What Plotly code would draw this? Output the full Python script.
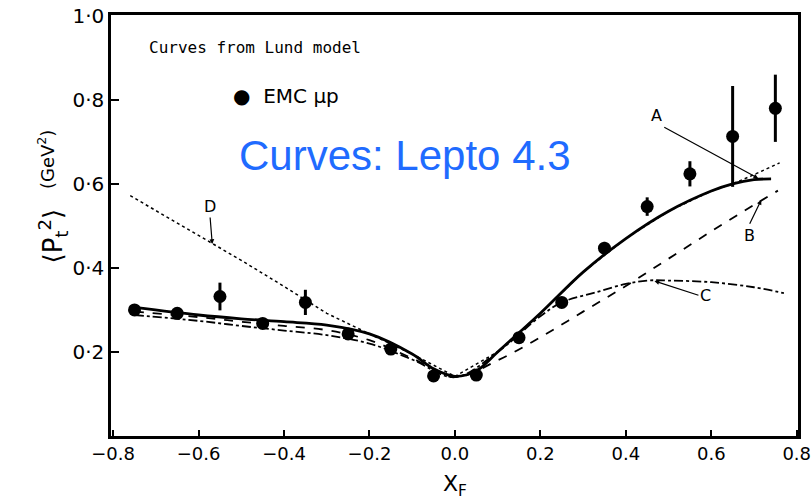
import plotly.graph_objects as go

# EMC mu-p data
xf = [-0.75, -0.65, -0.55, -0.45, -0.35, -0.25, -0.15, -0.05, 0.05, 0.15, 0.25, 0.35, 0.45, 0.55, 0.65, 0.75]
pt2 = [0.300, 0.292, 0.332, 0.268, 0.318, 0.243, 0.207, 0.143, 0.145, 0.234, 0.318, 0.447, 0.546, 0.624, 0.713, 0.780]
pt2_err = [0.012, 0.010, 0.033, 0.010, 0.030, 0.010, 0.008, 0.006, 0.006, 0.010, 0.012, 0.015, 0.022, 0.030, 0.120, 0.080]

# Curve A (solid)
xa = [-0.75, -0.6, -0.5, -0.4, -0.3, -0.2, -0.1, -0.05, 0.0, 0.05, 0.1, 0.2, 0.3, 0.4, 0.5, 0.6, 0.65, 0.7, 0.74]
ya = [0.306, 0.288, 0.279, 0.272, 0.264, 0.243, 0.195, 0.160, 0.142, 0.155, 0.200, 0.292, 0.390, 0.470, 0.535, 0.583, 0.600, 0.610, 0.612]
# Curve B (dashed)
xb = [-0.75, -0.6, -0.5, -0.4, -0.3, -0.2, -0.1, 0.0, 0.1, 0.2, 0.3, 0.4, 0.5, 0.6, 0.7, 0.756]
yb = [0.296, 0.283, 0.272, 0.262, 0.252, 0.228, 0.185, 0.140, 0.180, 0.235, 0.296, 0.357, 0.422, 0.487, 0.550, 0.584]
# Curve C (dash-dot)
xc = [-0.75, -0.6, -0.5, -0.4, -0.3, -0.2, -0.1, 0.0, 0.1, 0.2, 0.25, 0.33, 0.4, 0.45, 0.5, 0.6, 0.7, 0.77]
yc = [0.288, 0.274, 0.262, 0.251, 0.240, 0.220, 0.182, 0.140, 0.200, 0.285, 0.318, 0.342, 0.362, 0.370, 0.370, 0.366, 0.354, 0.340]
# Curve D (dotted)
xd = [-0.76, -0.6, -0.5, -0.4, -0.35, -0.3, -0.2, -0.1, 0.0, 0.1, 0.2, 0.3, 0.4, 0.5, 0.6, 0.65, 0.7, 0.76]
yd = [0.572, 0.478, 0.418, 0.356, 0.323, 0.292, 0.243, 0.195, 0.142, 0.200, 0.292, 0.390, 0.470, 0.535, 0.583, 0.600, 0.622, 0.650]

x_ticks = [-0.8, -0.6, -0.4, -0.2, 0.0, 0.2, 0.4, 0.6, 0.8]
x_tick_labels = ["\u22120.8", "\u22120.6", "\u22120.4", "\u22120.2", "0.0", "0.2", "0.4", "0.6", "0.8"]
y_ticks = [0.2, 0.4, 0.6, 0.8, 1.0]
y_tick_labels = ["0\u00b72", "0\u00b74", "0\u00b76", "0\u00b78", "1\u00b70"]

fig = go.Figure()
fig.add_trace(go.Scatter(x=xd, y=yd, mode="lines", line=dict(color="black", width=1.5, dash="dot"),
                         showlegend=False, hoverinfo="skip"))
fig.add_trace(go.Scatter(x=xc, y=yc, mode="lines", line=dict(color="black", width=1.8, dash="dashdot", shape="spline"),
                         showlegend=False))
fig.add_trace(go.Scatter(x=xb, y=yb, mode="lines", line=dict(color="black", width=1.8, dash="dash", shape="spline"),
                         showlegend=False))
fig.add_trace(go.Scatter(x=xa, y=ya, mode="lines", line=dict(color="black", width=2.8, shape="spline"),
                         showlegend=False))
fig.add_trace(go.Scatter(x=xf, y=pt2, mode="markers",
                         marker=dict(color="black", size=13),
                         error_y=dict(type="data", array=pt2_err, color="black", thickness=3, width=0),
                         showlegend=False))

font = "DejaVu Sans"
fig.update_layout(
    width=812, height=500,
    margin=dict(l=111, r=14, t=15, b=64, autoexpand=False),
    paper_bgcolor="white", plot_bgcolor="white",
    font=dict(family=font, color="black"),
    xaxis=dict(range=[-0.805, 0.803], tickvals=x_ticks, ticktext=x_tick_labels, automargin=False,
               ticks="inside", ticklen=6, tickwidth=1.5, tickcolor="black",
               showline=True, linecolor="black", linewidth=2.5, mirror=True,
               showgrid=False, zeroline=False,
               tickfont=dict(family=font, size=18, color="black")),
    yaxis=dict(range=[0.0, 1.002], tickvals=y_ticks, ticktext=y_tick_labels, automargin=False,
               ticks="inside", ticklen=8, tickwidth=1.5, tickcolor="black",
               showline=True, linecolor="black", linewidth=2.5, mirror=True,
               showgrid=False, zeroline=False,
               tickfont=dict(family=font, size=20, color="black")),
)

ann = []
ann.append(dict(x=-0.72, y=0.924, xref="x", yref="y", text="Curves from Lund model", showarrow=False,
                xanchor="left", yanchor="middle", font=dict(family="DejaVu Sans Mono", size=16, color="black")))
ann.append(dict(x=-0.525, y=0.81, xref="x", yref="y", text="\u25cf  EMC \u03bcp", showarrow=False,
                xanchor="left", yanchor="middle", font=dict(family=font, size=20, color="black")))
ann.append(dict(x=-0.116, y=0.667, xref="x", yref="y", text="Curves: Lepto 4.3", showarrow=False,
                xanchor="center", yanchor="middle", font=dict(family="Liberation Sans", size=42, color="#1f6bff")))
# curve labels
lab_font = dict(family=font, size=16, color="black")
ann.append(dict(x=-0.568, y=0.457, ax=-0.573, ay=0.52, xref="x", yref="y", axref="x", ayref="y",
                text="D", showarrow=True, arrowhead=2, arrowsize=0.8, arrowwidth=1.2, arrowcolor="black",
                font=lab_font, yanchor="bottom"))
ann.append(dict(x=0.71, y=0.613, ax=0.49, ay=0.735, xref="x", yref="y", axref="x", ayref="y",
                text="A", showarrow=True, arrowhead=2, arrowsize=0.8, arrowwidth=1.2, arrowcolor="black",
                font=lab_font, yanchor="bottom", xanchor="right"))
ann.append(dict(x=0.717, y=0.562, ax=0.69, ay=0.505, xref="x", yref="y", axref="x", ayref="y",
                text="B", showarrow=True, arrowhead=2, arrowsize=0.8, arrowwidth=1.2, arrowcolor="black",
                font=lab_font, yanchor="top"))
ann.append(dict(x=0.467, y=0.369, ax=0.57, ay=0.335, xref="x", yref="y", axref="x", ayref="y",
                text="C", showarrow=True, arrowhead=2, arrowsize=0.8, arrowwidth=1.2, arrowcolor="black",
                font=lab_font, xanchor="left"))
# axis titles (pixel positions converted to paper coordinates)
ann.append(dict(x=(32 - 111) / 687.0, y=(436 - 236) / 421.0, xref="paper", yref="paper",
                text="\u27e8P<sub>t</sub><sup>2</sup>\u27e9",
                showarrow=False, textangle=-90, font=dict(family=font, size=26, color="black")))
ann.append(dict(x=(32 - 111) / 687.0, y=(436 - 160) / 421.0, xref="paper", yref="paper",
                text="(GeV<sup>2</sup>)",
                showarrow=False, textangle=-90, font=dict(family=font, size=18, color="black")))
ann.append(dict(x=0.0, y=(436 - 485) / 421.0, xref="x", yref="paper", text="X<sub>F</sub>",
                showarrow=False, yanchor="middle", font=dict(family=font, size=22, color="black")))

fig.update_layout(annotations=ann)

fig.write_html("out.html")
